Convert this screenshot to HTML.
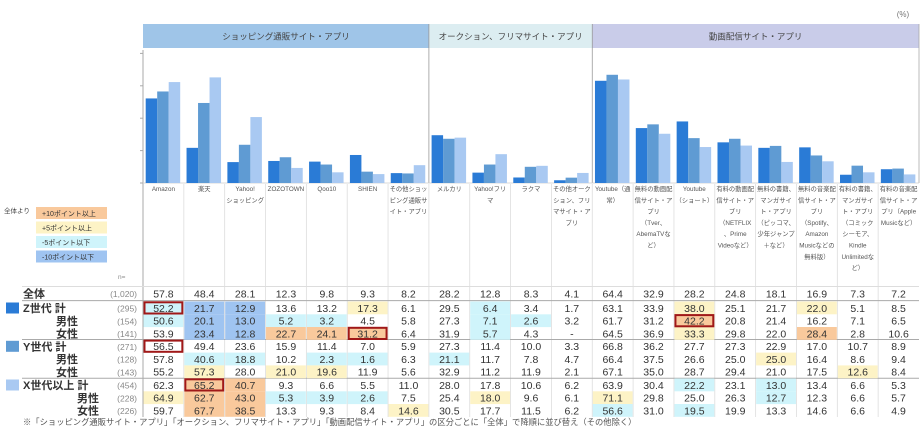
<!DOCTYPE html>
<html><head><meta charset="utf-8">
<style>
html,body{margin:0;padding:0;background:#fff;}
svg{display:block;font-family:"Liberation Sans","Noto Sans CJK JP",sans-serif;}
</style></head>
<body>
<svg id="chart" width="920" height="431" viewBox="0 0 920 431" xmlns="http://www.w3.org/2000/svg">
<text x="903" y="17" font-size="8" fill="#777" text-anchor="middle">(%)</text>
</svg>
<script>
const categories=["Amazon","楽天","Yahoo!\nショッピング","ZOZOTOWN","Qoo10","SHIEN","その他ショッ\nピング通販サ\nイト・アプリ","メルカリ","Yahoo!フリ\nマ","ラクマ","その他オーク\nション、フリ\nマサイト・ア\nプリ","Youtube（通\n常）","無料の動画配\n信サイト・ア\nプリ\n（Tver、\nAbemaTVな\nど）","Youtube\n（ショート）","有料の動画配\n信サイト・ア\nプリ\n（NETFLIX\n、Prime\nVideoなど）","無料の書籍、\nマンガサイ\nト・アプリ\n（ピッコマ、\n少年ジャンプ\n＋など）","無料の音楽配\n信サイト・ア\nプリ\n（Spotify、\nAmazon\nMusicなどの\n無料版）","有料の書籍、\nマンガサイ\nト・アプリ\n（コミック\nシーモア、\nKindle\nUnlimitedな\nど）","有料の音楽配\n信サイト・ア\nプリ（Apple\nMusicなど）"];
const groupNames=["ショッピング通販サイト・アプリ","オークション、フリマサイト・アプリ","動画配信サイト・アプリ"];
const groupSizes=[7,4,8];
const rowLabels=["全体","Z世代 計","男性","女性","Y世代 計","男性","女性","X世代以上 計","男性","女性"];
const rowN=["(1,020)","(295)","(154)","(141)","(271)","(128)","(143)","(454)","(228)","(226)"];
const rowAll=[57.8,48.4,28.1,12.3,9.8,9.3,8.2,28.2,12.8,8.3,4.1,64.4,32.9,28.2,24.8,18.1,16.9,7.3,7.2];
const rowZ=[52.2,21.7,12.9,13.6,13.2,17.3,6.1,29.5,6.4,3.4,1.7,63.1,33.9,38.0,25.1,21.7,22.0,5.1,8.5];
const rowZm=[50.6,20.1,13.0,5.2,3.2,4.5,5.8,27.3,7.1,2.6,3.2,61.7,31.2,42.2,20.8,21.4,16.2,7.1,6.5];
const rowZf=[53.9,23.4,12.8,22.7,24.1,31.2,6.4,31.9,5.7,4.3,null,64.5,36.9,33.3,29.8,22.0,28.4,2.8,10.6];
const rowY=[56.5,49.4,23.6,15.9,11.4,7.0,5.9,27.3,11.4,10.0,3.3,66.8,36.2,27.7,27.3,22.9,17.0,10.7,8.9];
const rowYm=[57.8,40.6,18.8,10.2,2.3,1.6,6.3,21.1,11.7,7.8,4.7,66.4,37.5,26.6,25.0,25.0,16.4,8.6,9.4];
const rowYf=[55.2,57.3,28.0,21.0,19.6,11.9,5.6,32.9,11.2,11.9,2.1,67.1,35.0,28.7,29.4,21.0,17.5,12.6,8.4];
const rowX=[62.3,65.2,40.7,9.3,6.6,5.5,11.0,28.0,17.8,10.6,6.2,63.9,30.4,22.2,23.1,13.0,13.4,6.6,5.3];
const rowXm=[64.9,62.7,43.0,5.3,3.9,2.6,7.5,25.4,18.0,9.6,6.1,71.1,29.8,25.0,26.3,12.7,12.3,6.6,5.7];
const rowXf=[59.7,67.7,38.5,13.3,9.3,8.4,14.6,30.5,17.7,11.5,6.2,56.6,31.0,19.5,19.9,13.3,14.6,6.6,4.9];
const highlightRows=[1,4,3,7,2];
const highlightCols=[0,0,5,1,13];
const yTicks=[0,20,40,60,80];

const rows=[rowAll,rowZ,rowZm,rowZf,rowY,rowYm,rowYf,rowX,rowXm,rowXf];
const seriesBars=[rowZ,rowY,rowX];
const seriesColors=["#2a7bd6","#5f9bd3","#a9c9f2"];
const NS="http://www.w3.org/2000/svg";
const svg=document.getElementById("chart");
const X0=143,COLW=(919-143)/categories.length,BASE=183,SCALE=1.62;
const xCol=i=>X0+i*COLW;
const yVal=v=>BASE-v*SCALE;
const rowY0=[287,301.5,314.3,327,339.8,352.6,365.4,378.5,391.3,404];
const RH=12.8;
function el(tag,attrs,parent){const e=document.createElementNS(NS,tag);for(const k in attrs)e.setAttribute(k,attrs[k]);(parent||svg).appendChild(e);return e;}
function txt(x,y,s,size,fill,anchor,weight){const t=el("text",{x:x,y:y,"font-size":size,fill:fill,"text-anchor":anchor||"start","font-weight":weight||"normal"});t.textContent=s;return t;}

const groupColors=["#9fc5e8","#dcedf1","#c9cce9"];
let gi=0;
groupSizes.forEach((n,g)=>{
  const x1=xCol(gi),x2=xCol(gi+n);
  const r=el("rect",{x:x1,y:24,width:x2-x1,height:24,fill:groupColors[g]});
  
  
  const t=txt((x1+x2)/2,39.5,groupNames[g],8.5,"#444","middle");
  
  
  if(g>0){const l=el("line",{x1:x1,x2:x1,y1:24,y2:183,stroke:"#999","stroke-width":0.8});}
  gi+=n;
});
el("line",{x1:919,x2:919,y1:24,y2:183,stroke:"#aaa","stroke-width":0.8});
el("line",{x1:X0,x2:X0,y1:50,y2:417,stroke:"#aaa","stroke-width":1});
yTicks.forEach(v=>{const t=el("line",{x1:X0-3,x2:X0,y1:yVal(v),y2:yVal(v),stroke:"#aaa","stroke-width":1});});
el("line",{x1:X0,x2:919,y1:BASE,y2:BASE,stroke:"#ccc","stroke-width":0.8});
const bw=11.5;
categories.forEach((c,i)=>{
  seriesBars.forEach((s,k)=>{
    const v=s[i];
    const r=el("rect",{x:xCol(i)+2.7+k*bw,y:yVal(v),width:bw,height:v*SCALE,fill:seriesColors[k]});
    
    
  });
});
for(let i=1;i<categories.length;i++){
  const l=el("line",{x1:xCol(i),x2:xCol(i),y1:184,y2:417,stroke:"#ddd","stroke-width":0.8});
  
  
}
categories.forEach((c,i)=>{
  const lines=c.split("\n");
  lines.forEach((ln,j)=>{
    const t=txt(xCol(i)+COLW/2,191+j*11.3,ln,6.3,"#555","middle");
    
    
  });
});
txt(4,213,"全体より",6.5,"#444");
const legItems=["+10ポイント以上","+5ポイント以上","-5ポイント以下","-10ポイント以下"];
const legColors=["#f9c99c","#fdf3c6","#cff4fb","#9fc4f1"];
legItems.forEach((s,i)=>{
  const y=207+i*14.5;
  const r=el("rect",{x:36,y:y,width:71,height:12,fill:legColors[i]});
  
  
  const t=txt(42,y+9,s,7,"#333");
  
  
});
txt(118,279,"n=",6.5,"#888");
[300.6,339.5,378.3].forEach(y=>{el("line",{x1:22,x2:919,y1:y,y2:y,stroke:"#aaa","stroke-width":1});});
el("line",{x1:22,x2:919,y1:286.5,y2:286.5,stroke:"#ddd","stroke-width":1});
function cellColor(d){if(d>10.05)return legColors[0];if(d>5.05)return legColors[1];if(d<-10.05)return legColors[3];if(d<-5.05)return legColors[2];return null;}
rows.forEach((row,r)=>{
  const y0=rowY0[r];
  row.forEach((v,i)=>{
    if(r>0&&v!==null){
      const c=cellColor(v-rowAll[i]);
      if(c){const b=el("rect",{x:xCol(i)+0.5,y:y0,width:COLW-1,height:RH,fill:c});}
    }
    const t=txt(xCol(i)+COLW/2,y0+10.3,v===null?"-":v.toFixed(1),10.5,"#333","middle");
    
    
  });
});
highlightRows.forEach((r,k)=>{
  const i=highlightCols[k];
  const b=el("rect",{x:xCol(i)+1.5,y:rowY0[r]+0.8,width:COLW-3,height:RH-1.6,fill:"none",stroke:"#a01818","stroke-width":2});
  
  
});
const labelX=[23,23,56,56,23,56,56,23,77,77];
const genRow={1:0,4:1,7:2};
rowLabels.forEach((s,r)=>{
  const y0=rowY0[r];
  if(genRow[r]!==undefined){const sq=el("rect",{x:6,y:y0+1,width:13,height:11,fill:seriesColors[genRow[r]]});}
  const t=txt(labelX[r],y0+10.5,s,11,"#333","start","bold");
  
  
  const n=txt(137,y0+10,rowN[r],8.5,"#888","end");
  
  
});
const f=txt(23,425,"※「ショッピング通販サイト・アプリ」「オークション、フリマサイト・アプリ」「動画配信サイト・アプリ」の区分ごとに「全体」で降順に並び替え（その他除く）",8.3,"#555");


</script>
</body></html>
